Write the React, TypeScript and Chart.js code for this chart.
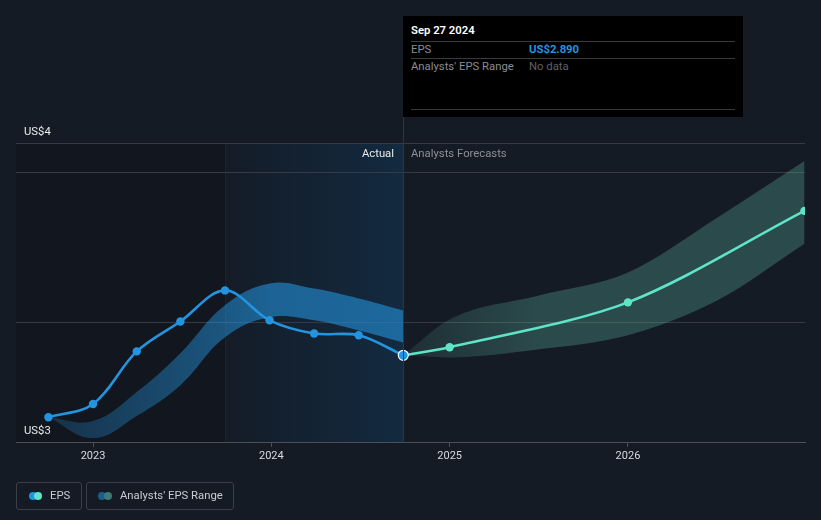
import React, { useEffect, useRef } from "react";
import { Chart, registerables } from "chart.js";

Chart.register(...registerables);

// ---- data ----
const actualDates = [2022.75, 2023.0, 2023.245, 2023.49, 2023.74, 2023.99, 2024.24, 2024.49, 2024.74];
const actualEps = [2.683, 2.727, 2.903, 3.003, 3.107, 3.007, 2.963, 2.957, 2.89];
const pastRangeHigh = [2.683, 2.67, 2.767, 2.897, 3.057, 3.13, 3.113, 3.08, 3.04];
const pastRangeLow = [2.683, 2.613, 2.687, 2.79, 2.95, 3.017, 3.007, 2.973, 2.933];

const forecastDates = [2024.74, 2025.0, 2026.0, 2026.99];
const forecastEps = [2.89, 2.917, 3.067, 3.373];

const rangeDates = [2024.74, 2025.0, 2025.5, 2026.0, 2026.5, 2026.99];
const rangeHigh = [2.89, 3.01, 3.09, 3.167, 3.35, 3.54];
const rangeLow = [2.89, 2.883, 2.91, 2.957, 3.073, 3.263];

const xTickYears = [2023, 2024, 2025, 2026];
const yGridValues = [2.6, 3.0, 3.5, 3.6];
const yMin = 2.6;
const yMax = 3.6;
const xMin = 2022.568;
const xMax = 2026.993;
const pastForecastStart = 2023.74;
const todayX = 2024.74;

const FONT = "Roboto, 'Noto Sans', sans-serif";
const BLUE = "#2394e0";
const TEAL = "#5fe3c9";

const pts = (xs: number[], ys: number[]) => xs.map((x, i) => ({ x, y: ys[i] }));

export default function App() {
  const ref = useRef<HTMLCanvasElement | null>(null);

  useEffect(() => {
    const canvas = ref.current!;
    const bgPlugin = {
      id: "bgPlugin",
      beforeDraw(chart: any) {
        const { ctx, chartArea: a, scales } = chart;
        const xs = scales.x;
        ctx.save();
        ctx.fillStyle = "#151b24";
        ctx.fillRect(0, 0, chart.width, chart.height);
        const xp = xs.getPixelForValue(pastForecastStart);
        const xt = xs.getPixelForValue(todayX);
        ctx.fillStyle = "#12161e";
        ctx.fillRect(a.left, a.top, xp - a.left, a.bottom - a.top);
        const g = ctx.createLinearGradient(xp, 0, xt, 0);
        g.addColorStop(0, "#141c27");
        g.addColorStop(1, "#132a40");
        ctx.fillStyle = g;
        ctx.fillRect(xp, a.top, xt - xp, a.bottom - a.top);
        ctx.fillStyle = "#1a2533";
        ctx.fillRect(Math.round(xp), a.top, 1, a.bottom - a.top);
        ctx.restore();
      },
      afterDraw(chart: any) {
        const { ctx, chartArea: a, scales } = chart;
        const xt = Math.round(scales.x.getPixelForValue(todayX));
        ctx.save();
        ctx.fillStyle = "#22384c";
        ctx.fillRect(xt, 117, 1, a.bottom - 117);
        ctx.font = `11.3px ${FONT}`;
        ctx.textBaseline = "middle";
        ctx.textAlign = "right";
        ctx.fillStyle = "#e8eaed";
        ctx.fillText("Actual", xt - 9, 154);
        ctx.textAlign = "left";
        ctx.fillStyle = "#8b9097";
        ctx.fillText("Analysts Forecasts", xt + 8, 154);
        // y labels (rounded axis bounds)
        ctx.fillStyle = "#e8eaed";
        ctx.textBaseline = "alphabetic";
        ctx.fillText(`US$${Math.round(yMax)}`, 24, scales.y.getPixelForValue(yMax) - 8);
        ctx.fillText(`US$${Math.round(yMin)}`, 24, scales.y.getPixelForValue(yMin) - 8);
        ctx.restore();
      },
    };

    const blueBand = (c: any) => {
      const ch = c.chart;
      const a = ch.chartArea;
      if (!a) return "rgba(35,148,223,0.45)";
      const x0 = ch.scales.x.getPixelForValue(actualDates[0]);
      const x1 = ch.scales.x.getPixelForValue(2024.0);
      const g = ch.ctx.createLinearGradient(x0, 0, x1, 0);
      g.addColorStop(0, "rgba(35,148,223,0.22)");
      g.addColorStop(1, "rgba(35,148,223,0.58)");
      return g;
    };
    const tealBand = (c: any) => {
      const ch = c.chart;
      const a = ch.chartArea;
      if (!a) return "rgba(94,184,166,0.3)";
      const x0 = ch.scales.x.getPixelForValue(rangeDates[0]);
      const x1 = ch.scales.x.getPixelForValue(2025.5);
      const g = ch.ctx.createLinearGradient(x0, 0, x1, 0);
      g.addColorStop(0, "rgba(94,184,166,0.12)");
      g.addColorStop(1, "rgba(94,184,166,0.3)");
      return g;
    };

    const lastIdx = actualDates.length - 1;
    const chart = new Chart(canvas, {
      type: "line",
      data: {
        datasets: [
          {
            label: "EPS",
            data: pts(actualDates, actualEps),
            borderColor: BLUE,
            borderWidth: 2.6,
            tension: 0.35,
            pointRadius: actualDates.map((_, i) => (i === lastIdx ? 5 : 4.2)),
            pointBackgroundColor: BLUE,
            pointBorderColor: actualDates.map((_, i) => (i === lastIdx ? "#ffffff" : BLUE)),
            pointBorderWidth: actualDates.map((_, i) => (i === lastIdx ? 1.2 : 0)),
            fill: false,
            order: 0,
          },
          {
            label: "EPS forecast",
            data: pts(forecastDates, forecastEps),
            borderColor: TEAL,
            borderWidth: 2.6,
            tension: 0.3,
            pointRadius: forecastDates.map((_, i) => (i === 0 ? 0 : 4.2)),
            pointBackgroundColor: TEAL,
            pointBorderWidth: 0,
            fill: false,
            order: 1,
          },
          {
            label: "past high",
            data: pts(actualDates, pastRangeHigh),
            borderWidth: 0,
            borderColor: "transparent",
            pointRadius: 0,
            tension: 0.4,
            fill: "+1",
            backgroundColor: blueBand,
            order: 2,
          },
          {
            label: "past low",
            data: pts(actualDates, pastRangeLow),
            borderWidth: 0,
            borderColor: "transparent",
            pointRadius: 0,
            tension: 0.4,
            fill: false,
            order: 3,
          },
          {
            label: "range high",
            data: pts(rangeDates, rangeHigh),
            borderWidth: 0,
            borderColor: "transparent",
            pointRadius: 0,
            cubicInterpolationMode: "monotone",
            fill: "+1",
            backgroundColor: tealBand,
            order: 4,
          },
          {
            label: "range low",
            data: pts(rangeDates, rangeLow),
            borderWidth: 0,
            borderColor: "transparent",
            pointRadius: 0,
            cubicInterpolationMode: "monotone",
            fill: false,
            order: 5,
          },
        ],
      } as any,
      options: {
        responsive: false,
        animation: false,
        devicePixelRatio: 1,
        layout: { padding: { left: 16, right: 16, top: 143, bottom: 48 } },
        plugins: { legend: { display: false }, tooltip: { enabled: false } },
        scales: {
          x: {
            type: "linear",
            min: xMin,
            max: xMax,
            afterBuildTicks: (s: any) => {
              s.ticks = xTickYears.map((v) => ({ value: v }));
            },
            afterFit: (s: any) => {
              s.height = 30;
            },
            ticks: {
              callback: (v: any) => String(v),
              color: "#d8dbe0",
              font: { family: FONT, size: 11 },
              padding: 3,
              maxRotation: 0,
            },
            grid: { drawOnChartArea: false, drawTicks: true, tickLength: 5, color: "#4b5058" },
            border: { display: true, color: "#4b5058", width: 1 },
          },
          y: {
            type: "linear",
            min: yMin,
            max: yMax,
            afterBuildTicks: (s: any) => {
              s.ticks = yGridValues.map((v) => ({ value: v }));
            },
            afterFit: (s: any) => {
              s.width = 0;
            },
            ticks: { display: false },
            grid: {
              drawTicks: false,
              color: (c: any) => (c.tick && c.tick.value === yMin ? "rgba(0,0,0,0)" : "#363b43"),
            },
            border: { display: false },
          },
        },
      } as any,
      plugins: [bgPlugin],
    });
    return () => chart.destroy();
  }, []);

  const sep = (top: number) => (
    <div style={{ position: "absolute", left: 8, right: 8, top, height: 1, background: "#3a3a3a" }} />
  );

  return (
    <div
      style={{
        position: "fixed",
        left: 0,
        top: 0,
        width: 821,
        height: 520,
        background: "#151b24",
        fontFamily: FONT,
        overflow: "hidden",
      }}
    >
      <canvas ref={ref} width={821} height={520} style={{ display: "block" }} />
      {/* tooltip box */}
      <div
        style={{
          position: "absolute",
          left: 403,
          top: 16,
          width: 340,
          height: 101,
          background: "#000000",
          fontSize: 11.3,
          lineHeight: "14px",
        }}
      >
        <div style={{ position: "absolute", left: 8, top: 8, color: "#ffffff", fontWeight: 600 }}>Sep 27 2024</div>
        {sep(25)}
        <div style={{ position: "absolute", left: 8, top: 27, color: "#8a8d92" }}>EPS</div>
        <div style={{ position: "absolute", left: 126, top: 27, color: BLUE, fontWeight: 700 }}>US$2.890</div>
        {sep(42)}
        <div style={{ position: "absolute", left: 8, top: 44, color: "#8a8d92" }}>Analysts' EPS Range</div>
        <div style={{ position: "absolute", left: 126, top: 44, color: "#5e6166" }}>No data</div>
        {sep(93)}
      </div>
      {/* legend */}
      <div
        style={{
          position: "absolute",
          left: 16,
          top: 482,
          width: 64,
          height: 26,
          border: "1px solid #3a3f47",
          borderRadius: 3,
          fontSize: 11.3,
          lineHeight: "14px",
          color: "#c8ccd2",
        }}
      >
        <span style={{ position: "absolute", left: 12, top: 9, width: 8, height: 8, borderRadius: 4, background: BLUE }} />
        <span style={{ position: "absolute", left: 17, top: 9, width: 8, height: 8, borderRadius: 4, background: TEAL }} />
        <span style={{ position: "absolute", left: 33, top: 6 }}>EPS</span>
      </div>
      <div
        style={{
          position: "absolute",
          left: 86,
          top: 482,
          width: 146,
          height: 26,
          border: "1px solid #3a3f47",
          borderRadius: 3,
          fontSize: 11.3,
          lineHeight: "14px",
          color: "#c8ccd2",
        }}
      >
        <span style={{ position: "absolute", left: 11, top: 9, width: 8, height: 8, borderRadius: 4, background: "#1f5c8c" }} />
        <span style={{ position: "absolute", left: 17, top: 9, width: 8, height: 8, borderRadius: 4, background: "#3d7b78" }} />
        <span style={{ position: "absolute", left: 33, top: 6 }}>Analysts' EPS Range</span>
      </div>
    </div>
  );
}
